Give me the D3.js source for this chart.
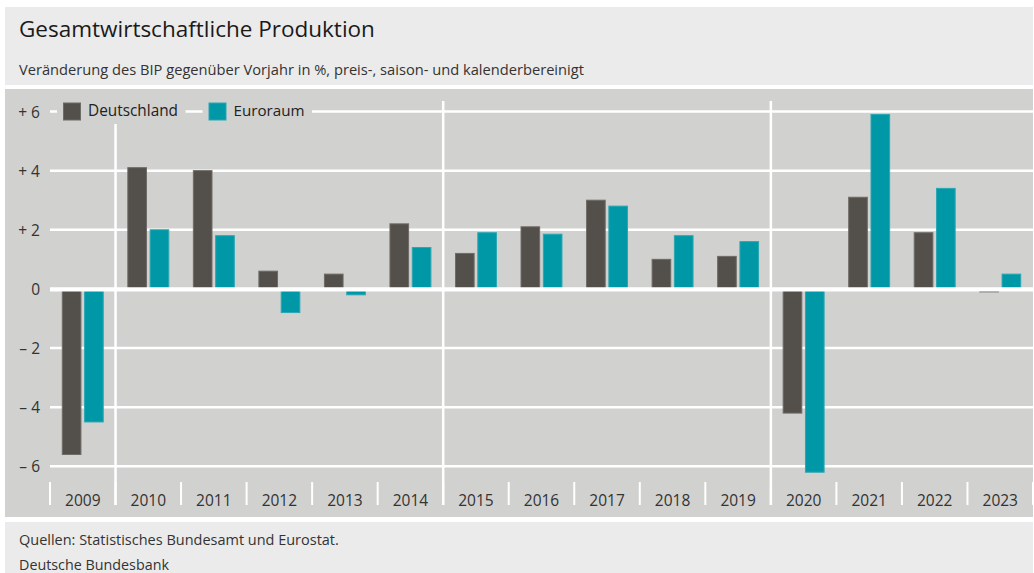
<!DOCTYPE html>
<html><head><meta charset="utf-8">
<script src="https://cdn.jsdelivr.net/npm/d3@7"></script>
<style>
body{margin:0;background:#fff;}
svg{display:block;}
text{font-family:"Open Sans","Noto Sans",sans-serif;}
</style>
</head><body>
<svg id="c" width="1034" height="573"></svg>
<script>
// ---- data ----
const years = ["2009","2010","2011","2012","2013","2014","2015","2016","2017","2018","2019","2020","2021","2022","2023"];
const seriesNames = ["Deutschland","Euroraum"];
const deutschland = [-5.6, 4.1, 4.0, 0.6, 0.5, 2.2, 1.2, 2.1, 3.0, 1.0, 1.1, -4.2, 3.1, 1.9, -0.1];
const euroraum    = [-4.5, 2.0, 1.8, -0.8, -0.2, 1.4, 1.9, 1.85, 2.8, 1.8, 1.6, -6.2, 5.9, 3.4, 0.5];
const yTicks = [-6, -4, -2, 0, 2, 4, 6];
const separatorYears = ["2010","2015","2020"];
const titleText = "Gesamtwirtschaftliche Produktion";
const subtitleText = "Veränderung des BIP gegenüber Vorjahr in %, preis-, saison- und kalenderbereinigt";
const footerLines = ["Quellen: Statistisches Bundesamt und Eurostat.", "Deutsche Bundesbank"];

// ---- style ----
const FONT = '"Open Sans","Noto Sans",sans-serif';
const colors = {Deutschland: "#534f4a", Euroraum: "#0098a7"};
const strokeCols = {Deutschland: "#6f6b67", Euroraum: "#2aa7b3"};
const panelGray = "#ebebeb", plotGray = "#d1d1cf", textCol = "#333";

const svg = d3.select("#c");

function fit(sel, target) {
  const fs = parseFloat(sel.attr("font-size"));
  const len = sel.node().getComputedTextLength();
  sel.attr("font-size", (fs * target / len).toFixed(2));
}

// panels
svg.append("rect").attr("x",5).attr("y",7).attr("width",1028).attr("height",78).attr("fill",panelGray);
svg.append("rect").attr("x",5).attr("y",89).attr("width",1028).attr("height",428).attr("fill",plotGray);
svg.append("rect").attr("x",5).attr("y",522).attr("width",1028).attr("height",51).attr("fill",panelGray);

// header text
const t = svg.append("text").attr("x",19).attr("y",36.5).attr("font-size",22).attr("fill","#1a1a1a").text(titleText);
fit(t, 356);
const st = svg.append("text").attr("x",19).attr("y",75).attr("font-size",15).attr("fill",textCol).text(subtitleText);
fit(st, 565);

// footer
const f1 = svg.append("text").attr("x",19).attr("y",545).attr("font-size",15).attr("fill",textCol).text(footerLines[0]);
fit(f1, 320);
const f2 = svg.append("text").attr("x",19).attr("y",569.5).attr("font-size",15).attr("fill",textCol).text(footerLines[1]);
fit(f2, 150);

// scales
const x0 = d3.scaleBand().domain(years).range([50, 1033]);
const xg = d3.scaleBand().domain(years).range([50, 1033]).paddingInner(0.36).paddingOuter(0.18);
const x1 = d3.scaleBand().domain(seriesNames).range([0, xg.bandwidth()]).paddingInner(0.12);
const y = d3.scaleLinear().domain([-6, 6]).range([466.3, 111.5]);

// gridlines
svg.append("g").selectAll("line").data(yTicks.filter(d => d !== 0)).join("line")
  .attr("x1", 50).attr("x2", 1033)
  .attr("y1", d => y(d)).attr("y2", d => y(d))
  .attr("stroke", "#fff").attr("stroke-width", 2.5);

// separators
svg.append("g").selectAll("line").data(separatorYears).join("line")
  .attr("x1", d => x0(d)).attr("x2", d => x0(d))
  .attr("y1", 101).attr("y2", 505)
  .attr("stroke", "#fff").attr("stroke-width", 2.5);

// bottom category ticks
const bounds = years.map(d => x0(d)).concat([x0.range()[1]]);
svg.append("g").selectAll("line").data(bounds).join("line")
  .attr("x1", d => d).attr("x2", d => d)
  .attr("y1", 482).attr("y2", 505)
  .attr("stroke", "#fff").attr("stroke-width", 2);

// bars
const rows = years.map((yr, i) => ({year: yr, values: [
  {key: "Deutschland", v: deutschland[i]},
  {key: "Euroraum", v: euroraum[i]}
]}));
const gBars = svg.append("g").selectAll("g").data(rows).join("g")
  .attr("transform", d => `translate(${xg(d.year)},0)`);
gBars.selectAll("rect").data(d => d.values).join("rect")
  .attr("x", d => x1(d.key) + 0.5)
  .attr("width", x1.bandwidth() - 1)
  .attr("y", d => d.v >= 0 ? y(d.v) : y(0))
  .attr("height", d => Math.abs(y(d.v) - y(0)))
  .attr("fill", d => colors[d.key])
  .attr("stroke", d => strokeCols[d.key]).attr("stroke-width", 1);

// zero line
svg.append("line").attr("x1", 50).attr("x2", 1033)
  .attr("y1", y(0) + 0.5).attr("y2", y(0) + 0.5)
  .attr("stroke", "#fff").attr("stroke-width", 4.4);

// y axis labels
const yAxis = d3.axisLeft(y).tickValues(yTicks).tickSize(0).tickPadding(0)
  .tickFormat(d => d > 0 ? "+ " + d : d < 0 ? "\u2013 " + Math.abs(d) : "0");
const ya = svg.append("g").attr("transform", "translate(40,0)").call(yAxis);
ya.select(".domain").remove();
ya.selectAll("text").attr("font-size", 15.5).attr("fill", textCol)
  .attr("font-family", FONT).attr("dy", "0.36em");

// x axis labels
const xAxis = d3.axisBottom(x0).tickSize(0).tickPadding(0);
const xa = svg.append("g").attr("transform", "translate(0,505.5)").call(xAxis);
xa.select(".domain").remove();
xa.selectAll("text").attr("font-size", 15.5).attr("fill", textCol)
  .attr("font-family", FONT).attr("y", 0).attr("dy", null);

// legend
let lx = 57;
seriesNames.forEach((name, i) => {
  const g = svg.append("g");
  const bg = g.append("rect").attr("y", 99).attr("height", 25).attr("fill", plotGray);
  g.append("rect").attr("x", lx + 6.5).attr("y", 103).attr("width", 17).attr("height", 17)
    .attr("fill", colors[name]).attr("stroke", strokeCols[name]).attr("stroke-width", 1);
  const tx = g.append("text").attr("x", lx + 31).attr("y", 115.5).attr("font-size", 15.5)
    .attr("fill", "#222").text(name);
  fit(tx, name === "Deutschland" ? 90 : 71);
  const end = lx + 31 + tx.node().getComputedTextLength() + 7.5;
  bg.attr("x", lx).attr("width", end - lx);
  lx = end + 17;
});
</script>
</body></html>
